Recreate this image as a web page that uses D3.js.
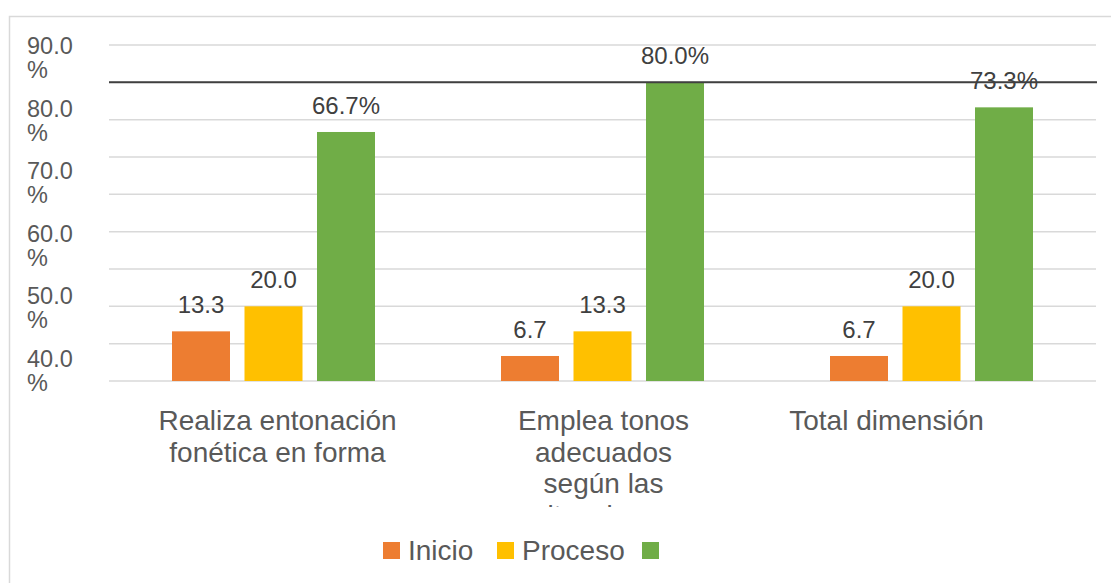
<!DOCTYPE html>
<html>
<head>
<meta charset="utf-8">
<script src="https://cdn.jsdelivr.net/npm/d3@7"></script>
<style>
  html, body { margin: 0; padding: 0; background: #fff; }
  svg { display: block; font-family: "Liberation Sans", Arial, sans-serif; }
</style>
</head>
<body>
<svg id="chart" width="1111" height="583"></svg>
<script>
// ---- data ----
const categories = ["Realiza entonación fonética en forma", "Emplea tonos adecuados según las situaciones", "Total dimensión"];
const categoryLines = [
  ["Realiza entonación", "fonética en forma"],
  ["Emplea tonos", "adecuados", "según las", "situaciones"],
  ["Total dimensión"]
];
const seriesNames = ["Inicio", "Proceso", ""];
const inicio = [13.3, 6.7, 6.7];
const proceso = [20.0, 13.3, 20.0];
const logro = [66.7, 80.0, 73.3];
const inicioLabels = ["13.3", "6.7", "6.7"];
const procesoLabels = ["20.0", "13.3", "20.0"];
const logroLabels = ["66.7%", "80.0%", "73.3%"];
const yTickLabels = ["90.0", "80.0", "70.0", "60.0", "50.0", "40.0"];
const gridValues = [0, 10, 20, 30, 40, 50, 60, 70, 80, 90];
const markerValue = 80;

const colors = ["#ED7D31", "#FFC000", "#70AD47"];
const series = [inicio, proceso, logro];
const seriesLabels = [inicioLabels, procesoLabels, logroLabels];

// ---- layout ----
const svg = d3.select("#chart");
const plotLeft = 109, plotRight = 1096, plotTop = 45, plotBottom = 381;

const x = d3.scaleBand().domain(categories).range([plotLeft, plotRight]).paddingInner(0).paddingOuter(0);
const xs = d3.scaleBand().domain(d3.range(series.length)).range([0, x.bandwidth()])
  .paddingInner(0.2).paddingOuter(0.869);
const y = d3.scaleLinear().domain([0, 90]).range([plotBottom, plotTop]);

// chart border
svg.append("rect").attr("x", 9.5).attr("y", 16.5).attr("width", 1300).attr("height", 800)
  .attr("fill", "none").attr("stroke", "#d9d9d9").attr("stroke-width", 1.5);

// gridlines
svg.append("g").selectAll("line").data(gridValues).join("line")
  .attr("x1", plotLeft).attr("x2", plotRight)
  .attr("y1", d => y(d)).attr("y2", d => y(d))
  .attr("stroke", "#d9d9d9").attr("stroke-width", 1.5);

// y tick labels (two-line)
const yl = d3.scalePoint().domain(yTickLabels).range([54, 367]);
const ylab = svg.append("g").selectAll("text").data(yTickLabels).join("text")
  .attr("x", 27).attr("y", d => yl(d))
  .attr("fill", "#595959").style("font-size", "23.5px");
ylab.append("tspan").attr("x", 27).text(d => d);
ylab.append("tspan").attr("x", 27).attr("dy", 24).text("%");

// bars
series.forEach((vals, si) => {
  svg.append("g").selectAll("rect").data(vals).join("rect")
    .attr("x", (d, i) => x(categories[i]) + xs(si))
    .attr("width", xs.bandwidth())
    .attr("y", d => y(d))
    .attr("height", d => y(0) - y(d))
    .attr("fill", colors[si]);
});

// data labels
series.forEach((vals, si) => {
  svg.append("g").selectAll("text").data(vals).join("text")
    .attr("x", (d, i) => x(categories[i]) + xs(si) + xs.bandwidth() / 2)
    .attr("y", d => y(d) - 18)
    .attr("text-anchor", "middle")
    .attr("fill", "#404040").style("font-size", "24px")
    .text((d, i) => seriesLabels[si][i]);
});

// dark reference line at 80
svg.append("line")
  .attr("x1", plotLeft).attr("x2", plotRight + 1)
  .attr("y1", y(markerValue)).attr("y2", y(markerValue))
  .attr("stroke", "#404040").attr("stroke-width", 2);

// category labels (clipped)
svg.append("clipPath").attr("id", "catclip").append("rect")
  .attr("x", 0).attr("y", 390).attr("width", 1111).attr("height", 117);
const labelShift = [4, 1, -45];
const cat = svg.append("g").attr("clip-path", "url(#catclip)").selectAll("text").data(categories).join("text")
  .attr("y", 430)
  .attr("text-anchor", "middle")
  .attr("fill", "#595959").style("font-size", "28px");
cat.each(function(d, i) {
  const cx = x(d) + x.bandwidth() / 2 + labelShift[i];
  d3.select(this).selectAll("tspan").data(categoryLines[i]).join("tspan")
    .attr("x", cx).attr("dy", (t, j) => j === 0 ? 0 : 31.5).text(t => t);
});

// legend
const legendX = [383, 497, 642];
const leg = svg.append("g").selectAll("g").data(seriesNames).join("g")
  .attr("transform", (d, i) => `translate(${legendX[i]},542)`);
leg.append("rect").attr("width", 17).attr("height", 17).attr("fill", (d, i) => colors[i]);
leg.append("text").attr("x", 25).attr("y", 17.5)
  .attr("fill", "#595959").style("font-size", "28px").text(d => d);
</script>
</body>
</html>
